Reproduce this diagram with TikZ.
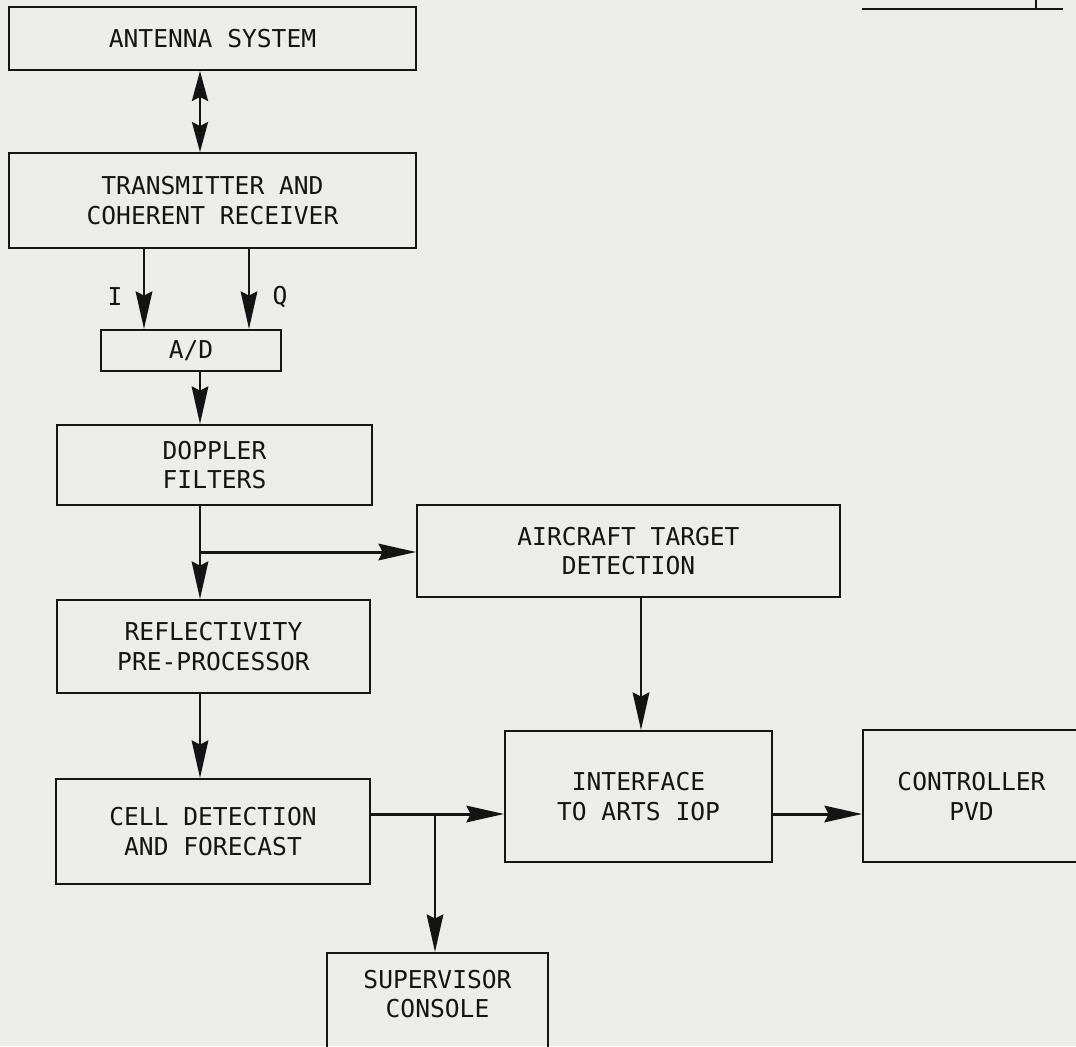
\documentclass[tikz,border=0pt]{standalone}
\usepackage{fontspec}
\newfontfamily\boxfont{DejaVu Sans Mono}
\usepackage{tikz}
\usetikzlibrary{arrows.meta, calc}
\definecolor{paper}{RGB}{236,236,233}
\definecolor{ink}{RGB}{20,20,20}

\begin{document}
\begin{tikzpicture}[x=0.02cm, y=-0.02cm,
    blk/.style  = {draw=ink, line width=1.1pt, inner sep=0pt, align=center,
                   text=ink, font=\boxfont\fontsize{14}{17}\selectfont},
    lbl/.style  = {text=ink, font=\boxfont\fontsize{14}{17}\selectfont},
    link/.style = {draw=ink, line width=1.7pt},
    arr/.style  = {link, -{Stealth[length=0.75cm, width=0.33cm, inset=0.08cm]}},
    dbl/.style  = {link, {Stealth[length=0.6cm, width=0.32cm, inset=0.08cm]}-{Stealth[length=0.6cm, width=0.32cm, inset=0.08cm]}},
  ]
  \fill[paper] (0,0) rectangle (1076,1046);
  \useasboundingbox (0,0) rectangle (1076,1046);

  \node[blk, minimum width=8.14cm, minimum height=1.26cm] (ant)  at (212.5,38.5)  {ANTENNA SYSTEM};
  \node[blk, minimum width=8.14cm, minimum height=1.90cm] (tx)   at (212.5,200.5) {TRANSMITTER AND\\COHERENT RECEIVER};
  \node[blk, minimum width=3.60cm, minimum height=0.82cm] (ad)   at (191,350.5)   {A/D};
  \node[blk, minimum width=6.30cm, minimum height=1.60cm] (dop)  at (214.5,465)   {DOPPLER\\FILTERS};
  \node[blk, minimum width=6.26cm, minimum height=1.86cm] (refl) at (213.5,646.5) {REFLECTIVITY\\PRE-PROCESSOR};
  \node[blk, minimum width=6.28cm, minimum height=2.10cm] (cell) at (213,831.5)   {CELL DETECTION\\AND FORECAST};
  \node[blk, minimum width=8.46cm, minimum height=1.84cm] (acq)  at (628.5,551)   {AIRCRAFT TARGET\\DETECTION};
  \node[blk, minimum width=5.34cm, minimum height=2.62cm] (intf) at (638.5,796.5) {INTERFACE\\TO ARTS IOP};
  \node[blk, minimum width=4.34cm, minimum height=2.64cm] (ctrl) at (971.5,796)   {CONTROLLER\\PVD};
  \node[blk, minimum width=4.42cm, minimum height=2.36cm, anchor=north]
                                                          (sup)  at (437.5,952)   {SUPERVISOR\\CONSOLE\\\rule{0pt}{0.68cm}};

  \node[lbl] (ilbl) at (115,297) {I};
  \node[lbl] (qlbl) at (280,297) {Q};

  \coordinate (mainx) at (200,0);
  \coordinate (ix)    at (144,0);
  \coordinate (qx)    at (249,0);
  \coordinate (atdx)  at (641,0);
  \coordinate (supx)  at (435,0);
  \coordinate (tapy)  at (0,552);
  \coordinate (outy)  at (0,814);
  \coordinate (split) at (mainx |- tapy);
  \coordinate (fork)  at (supx |- outy);

  \draw[dbl] (ant.south -| mainx) -- (tx.north -| mainx);
  \draw[arr] (tx.south -| ix) -- (ad.north -| ix);
  \draw[arr] (tx.south -| qx) -- (ad.north -| qx);
  \draw[arr] (ad.south -| mainx) -- (dop.north -| mainx);
  \draw[arr] (dop.south -| mainx) -- (refl.north -| mainx);
  \draw[arr] (split) -- (acq.west |- split);
  \draw[arr] (acq.south -| atdx) -- (intf.north -| atdx);
  \draw[arr] (refl.south -| mainx) -- (cell.north -| mainx);
  \draw[link] (cell.east |- outy) -- (fork);
  \draw[arr] (fork) -- (intf.west |- outy);
  \draw[arr] (fork) -- (sup.north -| supx);
  \draw[arr] (intf.east |- outy) -- (ctrl.west |- outy);

  \draw[draw=ink, line width=1.1pt] (862,9) -- (1063,9) (1036,9) -- (1036,0);
\end{tikzpicture}
\end{document}
